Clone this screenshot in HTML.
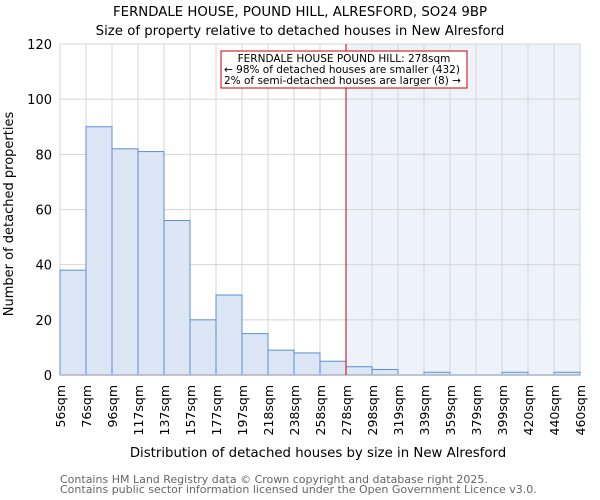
<!DOCTYPE html>
<html><head><meta charset="utf-8"><style>
body{margin:0;background:#fff;}
svg{display:block;font-family:"DejaVu Sans","Liberation Sans",sans-serif;}
</style></head><body>
<svg id="c" width="600" height="500">
<text x="300" y="16" text-anchor="middle" font-size="13.3">FERNDALE HOUSE, POUND HILL, ALRESFORD, SO24 9BP</text>
<text x="300" y="35" text-anchor="middle" font-size="13.3">Size of property relative to detached houses in New Alresford</text>
<g id="plot"></g>
<text x="318" y="457" text-anchor="middle" font-size="13.3">Distribution of detached houses by size in New Alresford</text>
<text transform="translate(13,214) rotate(-90)" text-anchor="middle" font-size="13">Number of detached properties</text>
<text x="60" y="483" font-size="11" fill="#666">Contains HM Land Registry data © Crown copyright and database right 2025.</text>
<text x="60" y="493" font-size="11" fill="#666">Contains public sector information licensed under the Open Government Licence v3.0.</text>
</svg>
<script>
const binLabels=["56sqm","76sqm","96sqm","117sqm","137sqm","157sqm","177sqm","197sqm","218sqm","238sqm","258sqm","278sqm","298sqm","319sqm","339sqm","359sqm","379sqm","399sqm","420sqm","440sqm","460sqm"];
const counts=[38,90,82,81,56,20,29,15,9,8,5,3,2,0,1,0,0,1,0,1];
const yTicks=[0,20,40,60,80,100,120];
const markerIndex=11;
const NS="http://www.w3.org/2000/svg";
const g=document.getElementById("plot");
const L=60,R=580,T=44,B=375,yMax=120;
const bw=(R-L)/counts.length;
const xs=i=>L+i*bw;
const ys=v=>B-(v/yMax)*(B-T);
function mk(t,a){const e=document.createElementNS(NS,t);for(const k in a)e.setAttribute(k,a[k]);g.appendChild(e);return e;}
let e;
e=mk("rect",{x:xs(markerIndex),y:T,width:R-xs(markerIndex),height:B-T,fill:"#eef2fb"});


yTicks.forEach(v=>{
 e=mk("line",{x1:L,x2:R,y1:ys(v),y2:ys(v),stroke:"#d6d6d6","stroke-width":1});
 
 
 e=mk("text",{x:L-8,y:ys(v)+5,"text-anchor":"end","font-size":13});
 e.textContent=v;
 
 
});
binLabels.forEach((s,i)=>{
 e=mk("line",{x1:xs(i),x2:xs(i),y1:T,y2:B,stroke:"#d6d6d6","stroke-width":1});
 
 
 e=mk("text",{transform:`translate(${xs(i)+5},${B+10}) rotate(-90)`,"text-anchor":"end","font-size":12.5});
 e.textContent=s;
 
 
});
counts.forEach((v,i)=>{
 if(v<=0)return;
 e=mk("rect",{x:xs(i),y:ys(v),width:bw,height:B-ys(v),fill:"#dde6f4",stroke:"#5a8fd6","stroke-width":1});
 
 
});
e=mk("line",{x1:L,x2:R,y1:B,y2:B,stroke:"#aab4c4","stroke-width":1.5});


e=mk("line",{x1:xs(markerIndex),x2:xs(markerIndex),y1:T,y2:B,stroke:"#cc0000","stroke-width":1});


e=mk("rect",{x:221,y:51,width:246,height:37,fill:"#fff",stroke:"#cc0000","stroke-width":1});


["FERNDALE HOUSE POUND HILL: 278sqm","← 98% of detached houses are smaller (432)","2% of semi-detached houses are larger (8) →"].forEach((t,k)=>{
 e=mk("text",{x:k==0?344:224,y:62+k*11,"text-anchor":k==0?"middle":"start","font-size":10.5});
 e.textContent=t;
 
 
});
</script>
</body></html>
